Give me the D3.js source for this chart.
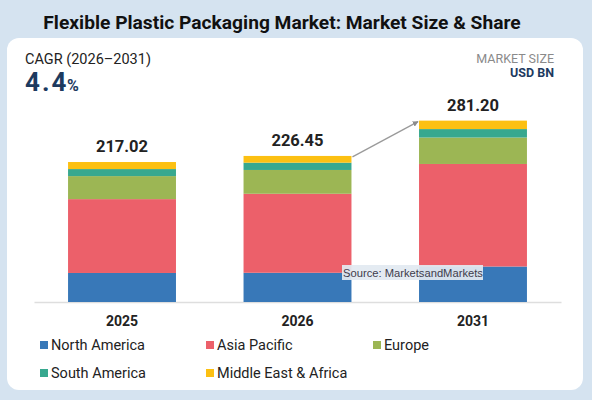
<!DOCTYPE html>
<html>
<head>
<meta charset="utf-8">
<script src="https://cdn.jsdelivr.net/npm/d3@7"></script>
<style>
  html, body { margin: 0; padding: 0; background: #d5e3f0; }
  svg { display: block; font-family: Roboto, "Noto Sans", sans-serif; }
</style>
</head>
<body>
<div id="chart"></div>
<script>
// data (USD BN)
var years = ['2025', '2026', '2031'];
var regions = ['North America', 'Asia Pacific', 'Europe', 'South America', 'Middle East & Africa'];
var northAmerica = [45.0, 45.3, 55.0];
var asiaPacific = [114.5, 122.5, 159.0];
var europe = [35.7, 36.9, 41.0];
var southAmerica = [10.9, 11.3, 13.1];
var middleEastAfrica = [10.92, 10.45, 13.1];
var totals = ['217.02', '226.45', '281.20'];
var colors = ['#3878b8', '#ec606a', '#9cb654', '#37a88f', '#fcc012'];

(function() {

    var Chart = {
        width: 592,
        height: 400,

        buildRows: function() {
            var series = [northAmerica, asiaPacific, europe, southAmerica, middleEastAfrica];
            return years.map(function(yr, i) {
                var row = { year: yr };
                regions.forEach(function(r, j) { row[r] = series[j][i]; });
                return row;
            });
        },

        init: function() {
            var svg = d3.select('#chart').append('svg')
                .attr('width', Chart.width)
                .attr('height', Chart.height);

            // page + card
            svg.append('rect').attr('width', Chart.width).attr('height', Chart.height).attr('fill', '#d5e3f0');
            svg.append('rect')
                .attr('x', 7).attr('y', 38).attr('width', 576).attr('height', 352)
                .attr('rx', 12).attr('fill', '#ffffff');

            svg.append('text')
                .attr('x', 282).attr('y', 29)
                .attr('text-anchor', 'middle')
                .style('font-size', '19.2px').style('font-weight', 'bold').attr('fill', '#111')
                .text('Flexible Plastic Packaging Market: Market Size & Share');

            // header texts
            svg.append('text').attr('x', 25).attr('y', 64)
                .style('font-size', '14.5px').attr('fill', '#222')
                .text('CAGR (2026\u20132031)');
            var cagr = svg.append('text').attr('x', 25).attr('y', 91)
                .attr('fill', '#1d3a5f').style('font-weight', 'bold');
            cagr.append('tspan').style('font-size', '26px').style('letter-spacing', '2px').text('4.4');
            cagr.append('tspan').attr('dx', -1.5).style('font-size', '16px').text('%');

            svg.append('text').attr('x', 554).attr('y', 63).attr('text-anchor', 'end')
                .style('font-size', '12.5px').attr('fill', '#8a8a8a')
                .text('MARKET SIZE');
            svg.append('text').attr('x', 554).attr('y', 77).attr('text-anchor', 'end')
                .style('font-size', '12.5px').style('font-weight', 'bold').attr('fill', '#1d3a5f')
                .text('USD BN');

            var rows = Chart.buildRows();
            var stacked = d3.stack().keys(regions)(rows);

            var x = d3.scaleBand().domain(years).range([34, 561])
                .paddingInner(0.385).paddingOuter(0.194);
            var y = d3.scaleLinear().domain([0, 300]).range([302, 108.5]);
            var color = d3.scaleOrdinal().domain(regions).range(colors);

            // axis
            var axis = svg.append('g')
                .attr('transform', 'translate(0,302)')
                .call(d3.axisBottom(x).tickSize(0).tickPadding(14));
            axis.select('.domain').attr('stroke', '#dedede').attr('stroke-width', 1.5);
            axis.selectAll('text')
                .style('font-family', 'Roboto, sans-serif')
                .style('font-size', '14px').style('font-weight', 'bold').attr('fill', '#222');

            // bars
            svg.append('g').selectAll('g')
                .data(stacked)
                .enter().append('g')
                  .attr('fill', function(s) { return color(s.key); })
                .selectAll('rect')
                .data(function(s) { return s; })
                .enter().append('rect')
                  .attr('x', function(d) { return x(d.data.year); })
                  .attr('y', function(d) { return y(d[1]); })
                  .attr('width', x.bandwidth())
                  .attr('height', function(d) { return y(d[0]) - y(d[1]); });

            // totals
            var top = stacked[stacked.length - 1];
            svg.append('g').selectAll('text')
                .data(top)
                .enter().append('text')
                  .attr('x', function(d) { return x(d.data.year) + x.bandwidth() / 2; })
                  .attr('y', function(d) { return y(d[1]) - 10; })
                  .attr('text-anchor', 'middle')
                  .style('font-size', '16.5px').style('font-weight', 'bold').attr('fill', '#222')
                  .text(function(d, i) { return totals[i]; });

            // growth arrow 2026 -> 2031
            svg.append('defs').append('marker')
                .attr('id', 'arrow').attr('viewBox', '0 0 10 10')
                .attr('refX', 9).attr('refY', 5)
                .attr('markerWidth', 4.5).attr('markerHeight', 4.5)
                .attr('orient', 'auto')
              .append('path').attr('d', 'M0,0L10,5L0,10Z').attr('fill', '#8c8c8c');
            svg.append('line')
                .attr('x1', x('2026') + x.bandwidth() + 1).attr('y1', y(top[1][1]) + 1)
                .attr('x2', x('2031') - 1).attr('y2', y(top[2][1]) + 1)
                .attr('stroke', '#9a9a9a').attr('stroke-width', 1.3)
                .attr('marker-end', 'url(#arrow)');

            // source box
            svg.append('rect').attr('x', 342).attr('y', 265).attr('width', 141).attr('height', 15)
                .attr('fill', 'rgba(226,233,241,0.93)');
            svg.append('text').attr('x', 343).attr('y', 277)
                .style('font-family', '"Liberation Sans", Arial, sans-serif')
                .style('font-size', '11.2px').attr('fill', '#3e3c4c')
                .text('Source: MarketsandMarkets');

            // legend
            var legendX = [40, 206, 373];
            var legendY = [345, 373];
            var legend = svg.append('g').selectAll('g')
                .data(regions)
                .enter().append('g')
                  .attr('transform', function(d, i) {
                      return 'translate(' + legendX[i % 3] + ',' + legendY[Math.floor(i / 3)] + ')';
                  });
            legend.append('rect')
                .attr('x', 0).attr('y', -4).attr('width', 8).attr('height', 8)
                .attr('fill', function(d) { return color(d); });
            legend.append('text')
                .attr('x', 11).attr('y', 5)
                .style('font-size', '14.5px').attr('fill', '#222')
                .text(function(d) { return d; });
        }
    };

    Chart.init();

})();
</script>
</body>
</html>
